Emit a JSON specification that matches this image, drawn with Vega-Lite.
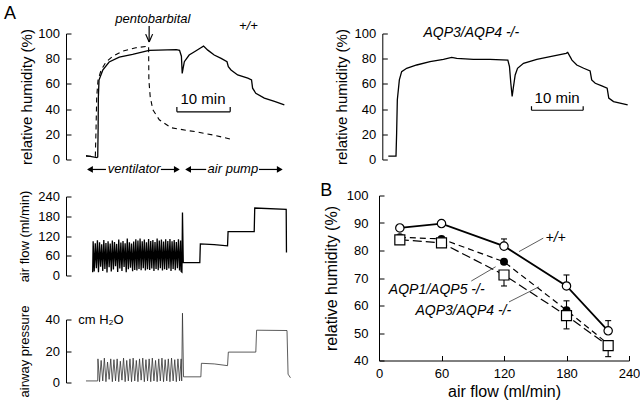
{
"$schema": "https://vega.github.io/schema/vega-lite/v6.json",
"background": "white",
"padding": {"left": 3, "top": 4.5, "right": 0, "bottom": 0},
"spacing": 27,
"config": {
  "font": "Liberation Sans",
  "view": {"stroke": null},
  "axis": {"grid": false, "labelOverlap": false, "labelFlush": false, "domainColor": "black", "tickColor": "black", "labelColor": "black", "titleColor": "black", "tickSize": -5, "labelPadding": 11.5, "labelFontSize": 13, "titleFontSize": 15, "titleFontWeight": "normal", "domainWidth": 1, "tickWidth": 1, "titleBaseline": "middle"}
},
"datasets": {
  "tlSolid": [
    {"t":3.56,"v":3},{"t":5.6,"v":1.5},{"t":5.76,"v":2},{"t":5.83,"v":23.6},{"t":5.88,"v":49.8},{"t":6.0,"v":63},{"t":6.7,"v":70.9},{"t":7.9,"v":77.4},{"t":9.8,"v":81.3},{"t":12.3,"v":83.5},{"t":15.4,"v":86.6},{"t":20.5,"v":87.2},{"t":21.1,"v":86.6},{"t":21.45,"v":82},{"t":21.6,"v":68.3},{"t":21.75,"v":72},{"t":22.0,"v":77.6},{"t":22.9,"v":82.9},{"t":23.9,"v":85.5},{"t":25.1,"v":88.7},{"t":25.6,"v":90},{"t":26.4,"v":86.8},{"t":27.6,"v":82.9},{"t":28.9,"v":80.3},{"t":30.0,"v":77.6},{"t":30.25,"v":73.7},{"t":30.75,"v":71.1},{"t":32.0,"v":67.1},{"t":33.9,"v":64.5},{"t":34.6,"v":63.2},{"t":34.8,"v":56.6},{"t":35.4,"v":52.6},{"t":37.0,"v":48.7},{"t":38.9,"v":46.1},{"t":40.75,"v":43.4}
  ],
  "tlDash": [
    {"t":3.56,"v":2.6},{"t":5.31,"v":2.6},{"t":5.44,"v":23.6},{"t":5.57,"v":49.8},{"t":5.82,"v":63},{"t":6.38,"v":70.9},{"t":7.32,"v":77.4},{"t":8.57,"v":81.9},{"t":10.45,"v":86},{"t":12.9,"v":88.7},{"t":15.3,"v":90},{"t":15.35,"v":63},{"t":15.6,"v":49.8},{"t":16.1,"v":39.4},{"t":17.3,"v":31.5},{"t":19.5,"v":25.2},{"t":22.3,"v":23.2},{"t":24.2,"v":22},{"t":27.6,"v":19.3},{"t":31.1,"v":15.7}
  ],
  "tr": [
    {"t":1.13,"v":2.6},{"t":2.57,"v":2.6},{"t":2.69,"v":21},{"t":2.82,"v":47.4},{"t":3.2,"v":63.2},{"t":3.63,"v":69.7},{"t":4.57,"v":72.4},{"t":6.45,"v":75},{"t":8.96,"v":77.6},{"t":11.47,"v":79.5},{"t":13.03,"v":81},{"t":13.97,"v":80.3},{"t":17.1,"v":79.5},{"t":20.2,"v":79.5},{"t":23.56,"v":78.9},{"t":23.87,"v":73.7},{"t":24.12,"v":60.5},{"t":24.37,"v":50},{"t":24.62,"v":57.9},{"t":24.94,"v":67.1},{"t":25.38,"v":72.4},{"t":26.5,"v":76.3},{"t":29.0,"v":79.5},{"t":31.5,"v":81.6},{"t":34.5,"v":84.2},{"t":34.8,"v":85},{"t":35.6,"v":78.9},{"t":36.5,"v":75},{"t":37.8,"v":72.4},{"t":39.0,"v":70.3},{"t":39.3,"v":63.2},{"t":39.97,"v":60.5},{"t":41.2,"v":58.4},{"t":42.2,"v":56.6},{"t":42.5,"v":48.7},{"t":43.4,"v":46},{"t":46.05,"v":43.4}
  ],
  "af": [
    {"t":4.81,"v":10},{"t":4.9,"v":104},{"t":5.1,"v":12},{"t":5.3,"v":98},{"t":5.5,"v":22},{"t":5.7,"v":107},{"t":5.9,"v":10},{"t":6.1,"v":101},{"t":6.3,"v":27},{"t":6.5,"v":95},{"t":6.7,"v":14},{"t":6.9,"v":108},{"t":7.1,"v":20},{"t":7.3,"v":99},{"t":7.5,"v":9},{"t":7.7,"v":104},{"t":7.9,"v":25},{"t":8.1,"v":97},{"t":8.3,"v":12},{"t":8.5,"v":106},{"t":8.7,"v":18},{"t":8.9,"v":102},{"t":9.1,"v":28},{"t":9.3,"v":96},{"t":9.5,"v":11},{"t":9.7,"v":109},{"t":9.9,"v":21},{"t":10.1,"v":100},{"t":10.3,"v":14},{"t":10.5,"v":105},{"t":10.7,"v":26},{"t":10.9,"v":98},{"t":11.1,"v":10},{"t":11.3,"v":112},{"t":11.5,"v":19},{"t":11.7,"v":101},{"t":11.9,"v":24},{"t":12.1,"v":97},{"t":12.3,"v":13},{"t":12.5,"v":103},{"t":12.7,"v":17},{"t":12.9,"v":110},{"t":13.1,"v":15},{"t":13.3,"v":106},{"t":13.5,"v":20},{"t":13.7,"v":112},{"t":13.9,"v":16},{"t":14.1,"v":104},{"t":14.3,"v":22},{"t":14.5,"v":109},{"t":14.7,"v":15},{"t":14.9,"v":101},{"t":15.1,"v":19},{"t":15.3,"v":111},{"t":15.5,"v":17},{"t":15.7,"v":105},{"t":15.9,"v":21},{"t":16.1,"v":108},{"t":16.3,"v":14},{"t":16.5,"v":102},{"t":16.7,"v":20},{"t":16.9,"v":112},{"t":17.1,"v":16},{"t":17.3,"v":106},{"t":17.5,"v":22},{"t":17.7,"v":109},{"t":17.9,"v":15},{"t":18.1,"v":103},{"t":18.3,"v":19},{"t":18.5,"v":110},{"t":18.7,"v":17},{"t":18.9,"v":105},{"t":19.1,"v":21},{"t":19.3,"v":111},{"t":19.5,"v":14},{"t":19.7,"v":104},{"t":19.9,"v":20},{"t":20.1,"v":108},{"t":20.3,"v":16},{"t":20.5,"v":102},{"t":20.7,"v":22},{"t":20.9,"v":110},{"t":21.1,"v":15},{"t":21.3,"v":106},{"t":21.4,"v":12},
    {"t":21.55,"v":10},{"t":21.65,"v":191},{"t":21.8,"v":40},{"t":24.9,"v":39},{"t":25.0,"v":96},{"t":27.6,"v":94},{"t":30.1,"v":90},{"t":30.2,"v":133},{"t":35.1,"v":133},{"t":35.2,"v":205},{"t":41.1,"v":201},{"t":41.15,"v":70}
  ],
  "pr": [
    {"t":3.56,"v":1},{"t":5.75,"v":1},{"t":5.8,"v":15},{"t":6.1,"v":0.5},{"t":6.4,"v":14},{"t":6.7,"v":1},{"t":7.0,"v":15.5},{"t":7.3,"v":0.5},{"t":7.6,"v":13},{"t":7.9,"v":2},{"t":8.2,"v":15},{"t":8.5,"v":0.5},{"t":8.8,"v":14.5},{"t":9.1,"v":1},{"t":9.4,"v":15},{"t":9.7,"v":0.5},{"t":10.0,"v":13.5},{"t":10.3,"v":1.5},{"t":10.6,"v":15.5},{"t":10.9,"v":0.5},{"t":11.2,"v":14},{"t":11.5,"v":1},{"t":11.8,"v":15},{"t":12.1,"v":0.5},{"t":12.4,"v":15.5},{"t":12.7,"v":1},{"t":13.0,"v":14},{"t":13.3,"v":0.5},{"t":13.6,"v":15},{"t":13.9,"v":1.5},{"t":14.2,"v":15.5},{"t":14.5,"v":0.5},{"t":14.8,"v":14.5},{"t":15.1,"v":1},{"t":15.4,"v":15},{"t":15.7,"v":0.5},{"t":16.0,"v":15.5},{"t":16.3,"v":1},{"t":16.6,"v":14},{"t":16.9,"v":0.5},{"t":17.2,"v":15},{"t":17.5,"v":1},{"t":17.8,"v":15.5},{"t":18.1,"v":0.5},{"t":18.4,"v":14.5},{"t":18.7,"v":1},{"t":19.0,"v":15},{"t":19.3,"v":0.5},{"t":19.6,"v":15.5},{"t":19.9,"v":1},{"t":20.2,"v":14.5},{"t":20.5,"v":0.5},{"t":20.8,"v":15},{"t":21.1,"v":1},{"t":21.4,"v":15},
    {"t":21.5,"v":1},{"t":21.65,"v":44},{"t":21.85,"v":3.6},{"t":25.1,"v":3.6},{"t":25.2,"v":12.2},{"t":27.6,"v":11.8},{"t":30.1,"v":10.7},{"t":30.25,"v":19.3},{"t":35.4,"v":19.3},{"t":35.55,"v":33.2},{"t":41.25,"v":33},{"t":41.45,"v":5.3},{"t":41.9,"v":3}
  ],
  "bpts": [
    {"g":"wt","x":20,"y":88.2},{"g":"wt","x":60,"y":89.8},{"g":"wt","x":120,"y":81.6},{"g":"wt","x":180,"y":67.1},{"g":"wt","x":220,"y":50.8},
    {"g":"a15","x":20,"y":84.8},{"g":"a15","x":60,"y":84.2},{"g":"a15","x":120,"y":75.9},{"g":"a15","x":180,"y":58.3},{"g":"a15","x":220,"y":46},
    {"g":"a34","x":20,"y":83.9},{"g":"a34","x":60,"y":82.8},{"g":"a34","x":120,"y":71.1},{"g":"a34","x":180,"y":56.3},{"g":"a34","x":220,"y":45.4}
  ],
  "berr": [
    {"x":120,"x2":120,"y":81.6,"y2":84.2},{"x":117.1,"x2":122.9,"y":84.2,"y2":84.2},
    {"x":180,"x2":180,"y":67.1,"y2":71.1},{"x":177.1,"x2":182.9,"y":71.1,"y2":71.1},
    {"x":220,"x2":220,"y":50.8,"y2":54.5},{"x":217.1,"x2":222.9,"y":54.5,"y2":54.5},
    {"x":180,"x2":180,"y":58.3,"y2":61.7},{"x":177.1,"x2":182.9,"y":61.7,"y2":61.7},
    {"x":120,"x2":120,"y":71.1,"y2":67.1},{"x":117.1,"x2":122.9,"y":67.1,"y2":67.1},
    {"x":180,"x2":180,"y":56.3,"y2":51.5},{"x":177.1,"x2":182.9,"y":51.5,"y2":51.5},
    {"x":220,"x2":220,"y":45.4,"y2":41.4},{"x":217.1,"x2":222.9,"y":41.4,"y2":41.4}
  ],
  "blead": [
    {"x":134.4,"x2":157.7,"y":79.6,"y2":84.5},
    {"x":88.6,"x2":112,"y":68.9,"y2":74.1},
    {"x":124.8,"x2":153.6,"y":61.3,"y2":66.8}
  ]
},
"hconcat": [
  {"bounds": "flush", "spacing": 37, "vconcat": [
    {"width": 225, "height": 126,
     "encoding": {"x": {"field": "t", "type": "quantitative", "scale": {"domain": [-0.19, 42]}, "axis": null},
                  "y": {"field": "v", "type": "quantitative", "scale": {"domain": [0, 100]}, "axis": {"title": "relative humidity (%)", "values": [0,20,40,60,80,100], "labelOverlap": false, "titleX": -40}}},
     "layer": [
      {"data": {"name": "tlSolid"}, "mark": {"type": "line", "color": "black", "strokeWidth": 1.3}},
      {"data": {"name": "tlDash"}, "mark": {"type": "line", "color": "black", "strokeWidth": 1.1, "strokeDash": [5, 4]}},
      {"data": {"values": [
         {"t":20.6,"t2":30.6,"v":37.8,"v2":37.8},{"t":20.6,"t2":20.6,"v":37.8,"v2":41.7},{"t":30.6,"t2":30.6,"v":37.8,"v2":41.7},
         {"t":15.4,"t2":15.4,"v":106,"v2":93.5},{"t":14.75,"t2":15.4,"v":99.5,"v2":93.2},{"t":16.05,"t2":15.4,"v":99.5,"v2":93.2},
         {"t":4.0,"t2":7.3,"v":-7.9,"v2":-7.9},{"t":17.6,"t2":20.9,"v":-7.9,"v2":-7.9},{"t":22.4,"t2":26.1,"v":-7.9,"v2":-7.9},{"t":36,"t2":40.2,"v":-7.9,"v2":-7.9}
       ]}, "mark": {"type": "rule", "color": "black", "strokeWidth": 1.2},
       "encoding": {"x2": {"field": "t2"}, "y2": {"field": "v2"}}},
      {"data": {"values": [
         {"t":4.3,"v":-7.9,"s":"triangle-left"},{"t":20.6,"v":-7.9,"s":"triangle-right"},{"t":22.7,"v":-7.9,"s":"triangle-left"},{"t":39.9,"v":-7.9,"s":"triangle-right"}
       ]}, "mark": {"type": "point", "filled": true, "color": "black", "size": 45, "opacity": 1},
       "encoding": {"shape": {"field": "s", "type": "nominal", "scale": null}}},
      {"data": {"values": [
         {"t":16.1,"v":111.8,"label":"pentobarbital"},{"t":34,"v":106,"label":"+/+"},{"t":12.6,"v":-7.9,"label":"ventilator"},{"t":31.1,"v":-7.9,"label":"air pump"}
       ]}, "mark": {"type": "text", "fontSize": 13, "fontStyle": "italic", "color": "black", "baseline": "middle"},
       "encoding": {"text": {"field": "label"}}},
      {"data": {"values": [{"t":25.5,"v":48,"label":"10 min"}]}, "mark": {"type": "text", "fontSize": 15, "color": "black", "baseline": "middle"},
       "encoding": {"text": {"field": "label"}}},
      {"data": {"values": [{"t":-10.7,"v":115.5,"label":"A"}]}, "mark": {"type": "text", "fontSize": 18, "color": "black", "baseline": "middle"},
       "encoding": {"text": {"field": "label"}}}
    ]},
    {"bounds": "flush", "spacing": 44, "vconcat": [
      {"width": 225, "height": 79, "data": {"name": "af"}, "mark": {"type": "line", "color": "black", "strokeWidth": 1.3},
       "encoding": {"x": {"field": "t", "type": "quantitative", "scale": {"domain": [-0.19, 42]}, "axis": null},
                    "y": {"field": "v", "type": "quantitative", "scale": {"domain": [0, 240]}, "axis": {"title": "air flow (ml/min)", "values": [0,60,120,180,240], "labelOverlap": false, "titleX": -41.7, "titleFontSize": 13}}}},
      {"width": 225, "height": 63,
       "encoding": {"x": {"field": "t", "type": "quantitative", "scale": {"domain": [-0.19, 42]}, "axis": null},
                    "y": {"field": "v", "type": "quantitative", "scale": {"domain": [0, 40]}, "axis": {"title": "airway pressure", "values": [0,20,40], "labelOverlap": false, "titleX": -42, "titleFontSize": 13}}},
       "layer": [
        {"data": {"name": "pr"}, "mark": {"type": "line", "color": "#333333", "strokeWidth": 0.8}},
        {"data": {"values": [{"t":2.1,"v":39.4,"label":"cm H₂O"}]}, "mark": {"type": "text", "fontSize": 13, "color": "black", "align": "left", "baseline": "middle"},
         "encoding": {"text": {"field": "label"}}}
      ]}
    ]}
  ]},
  {"bounds": "flush", "spacing": 36, "vconcat": [
    {"width": 250, "height": 126,
     "encoding": {"x": {"field": "t", "type": "quantitative", "scale": {"domain": [-0.62, 46.3]}, "axis": null},
                  "y": {"field": "v", "type": "quantitative", "scale": {"domain": [0, 100]}, "axis": {"title": "relative humidity (%)", "values": [0,20,40,60,80,100], "labelOverlap": false, "titleX": -41, "offset": -3.3}}},
     "layer": [
      {"data": {"name": "tr"}, "mark": {"type": "line", "color": "black", "strokeWidth": 1.3}},
      {"data": {"values": [
         {"t":28,"t2":37.7,"v":39.1,"v2":39.1},{"t":28,"t2":28,"v":39.1,"v2":42.3},{"t":37.7,"t2":37.7,"v":39.1,"v2":42.3}
       ]}, "mark": {"type": "rule", "color": "black", "strokeWidth": 1.2},
       "encoding": {"x2": {"field": "t2"}, "y2": {"field": "v2"}}},
      {"data": {"values": [{"t":16.7,"v":100.2,"label":"AQP3/AQP4 -/-"}]}, "mark": {"type": "text", "fontSize": 14, "fontStyle": "italic", "color": "black", "baseline": "middle"},
       "encoding": {"text": {"field": "label"}}},
      {"data": {"values": [{"t":32.8,"v":48.7,"label":"10 min"}]}, "mark": {"type": "text", "fontSize": 15, "color": "black", "baseline": "middle"},
       "encoding": {"text": {"field": "label"}}}
    ]},
    {"width": 250, "height": 165,
     "encoding": {"x": {"field": "x", "type": "quantitative", "scale": {"domain": [0, 240]}, "axis": {"title": "air flow (ml/min)", "values": [0,60,120,180,240], "labelOverlap": false, "labelFlush": false, "titleFontSize": 16, "titleY": 31}},
                  "y": {"field": "y", "type": "quantitative", "scale": {"domain": [40, 100]}, "axis": {"title": "relative humidity (%)", "values": [40,50,60,70,80,90,100], "labelOverlap": false, "titleFontSize": 16, "titleX": -47.7, "labelPadding": 16}}},
     "layer": [
      {"data": {"name": "bpts"}, "transform": [{"filter": "datum.g == 'wt'"}], "mark": {"type": "line", "color": "black", "strokeWidth": 1.8}},
      {"data": {"name": "bpts"}, "transform": [{"filter": "datum.g == 'a15'"}], "mark": {"type": "line", "color": "black", "strokeWidth": 1.2, "strokeDash": [6, 4]}},
      {"data": {"name": "bpts"}, "transform": [{"filter": "datum.g == 'a34'"}], "mark": {"type": "line", "color": "black", "strokeWidth": 1.2, "strokeDash": [9, 4]}},
      {"data": {"name": "berr"}, "mark": {"type": "rule", "color": "black", "strokeWidth": 1.1},
       "encoding": {"x2": {"field": "x2"}, "y2": {"field": "y2"}}},
      {"data": {"name": "blead"}, "mark": {"type": "rule", "color": "#333333", "strokeWidth": 0.8},
       "encoding": {"x2": {"field": "x2"}, "y2": {"field": "y2"}}},
      {"data": {"name": "bpts"}, "transform": [{"filter": "datum.g == 'a15'"}], "mark": {"type": "point", "shape": "circle", "filled": true, "color": "black", "size": 64, "opacity": 1}},
      {"data": {"name": "bpts"}, "transform": [{"filter": "datum.g == 'a34'"}], "mark": {"type": "point", "shape": "square", "filled": true, "fill": "white", "stroke": "black", "strokeWidth": 1.2, "size": 100, "opacity": 1}},
      {"data": {"name": "bpts"}, "transform": [{"filter": "datum.g == 'wt'"}], "mark": {"type": "point", "shape": "circle", "filled": true, "fill": "white", "stroke": "black", "strokeWidth": 1.2, "size": 70, "opacity": 1}},
      {"data": {"values": [{"x":169.6,"y":84.5,"label":"+/+"},{"x":55.4,"y":65.6,"label":"AQP1/AQP5 -/-"},{"x":80.9,"y":58,"label":"AQP3/AQP4 -/-"}]},
       "mark": {"type": "text", "fontSize": 14, "fontStyle": "italic", "color": "black", "baseline": "middle"},
       "encoding": {"text": {"field": "label"}}},
      {"data": {"values": [{"x":-50.6,"y":101.8,"label":"B"}]}, "mark": {"type": "text", "fontSize": 18, "color": "black", "baseline": "middle"},
       "encoding": {"text": {"field": "label"}}}
    ]}
  ]}
]
}
